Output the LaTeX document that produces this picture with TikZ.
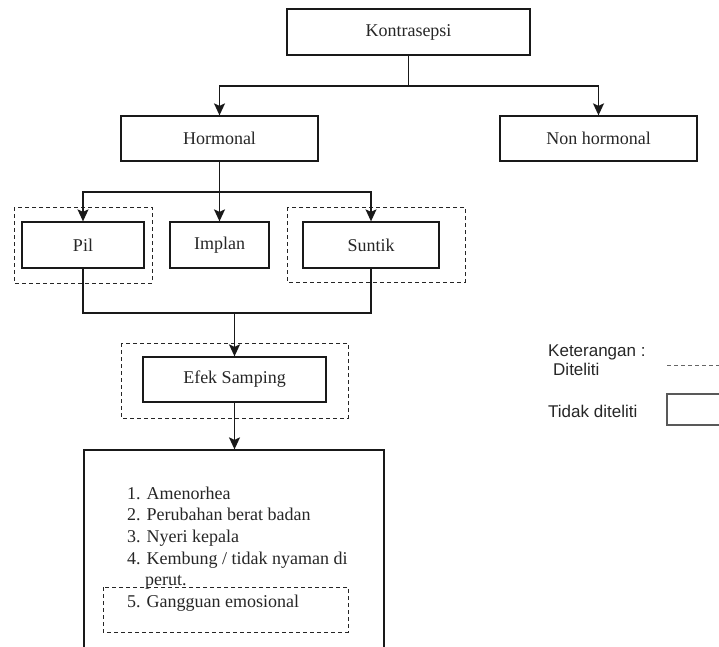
\documentclass[tikz,border=0pt]{standalone}
\usepackage{fontspec}
\setmainfont{Liberation Serif}
\newfontfamily\legendfont{Liberation Sans}
\usetikzlibrary{arrows.meta}
\begin{document}
\begin{tikzpicture}[x=1pt,y=-1pt,
  box/.style={draw=black!90, line width=1.3pt, rectangle, inner sep=0pt,
    text=black!85, font=\fontsize{18}{21.7}\selectfont},
  dashbox/.style={draw=black!85, line width=1pt, dash pattern=on 4pt off 3pt},
  link/.style={draw=black!90, line width=1.4pt},
  arrow/.style={link, -{Stealth[length=12pt,width=11pt,inset=2.5pt]}},
  item/.style={anchor=base west, inner sep=0pt, text=black!85,
    font=\fontsize{18}{21.7}\selectfont},
  legend/.style={anchor=base west, inner sep=0pt, text=black!85,
    font=\legendfont\fontsize{17}{20}\selectfont}]
\useasboundingbox (0,0) rectangle (719,646);
\clip (0,0) rectangle (719,646);

% top levels
\node[box, minimum width=243pt, minimum height=46pt] (kontra) at (408.5,32) {Kontrasepsi};
\node[box, minimum width=197pt, minimum height=45pt] (hormonal) at (219.5,138.5) {Hormonal};
\node[box, minimum width=197pt, minimum height=45pt] (nonhormonal) at (598.5,138.5) {Non hormonal};

% hormonal methods
\node[box, minimum width=122pt, minimum height=46pt] (pil) at (83,245) {Pil};
\node[box, minimum width=99pt, minimum height=46pt] (implan) at (219.5,245) {Implan};
\node[box, minimum width=136pt, minimum height=46pt] (suntik) at (371,245) {Suntik};
\draw[dashbox] (14,207) rectangle (152,283);
\draw[dashbox] (287,207) rectangle (465,282);

% side effects
\node[box, minimum width=183pt, minimum height=45pt] (efek) at (234.5,379.5) {Efek Samping};
\draw[dashbox] (121,343) rectangle (348,418);

% list of side effects
\node[box, minimum width=300pt, minimum height=250pt] (list) at (234,575) {};
\node[item] (l1) at (127,499) {1. Amenorhea};
\node[item] (l2) at (127,520.7) {2. Perubahan berat badan};
\node[item] (l3) at (127,542.4) {3. Nyeri kepala};
\node[item] (l4) at (127,564.1) {4. Kembung / tidak nyaman di};
\node[item] (l4b) at (145,585.8) {perut.};
\node[item] (l5) at (127,607.5) {5. Gangguan emosional};
\draw[dashbox] (103,587) rectangle (348,632);

% connectors
\coordinate (k1) at (408.5,86);
\draw[link] (kontra.south) -- (k1);
\draw[arrow] (k1) -| (hormonal.north);
\draw[arrow] (k1) -| (nonhormonal.north);

\coordinate (h1) at (219.5,192);
\draw[link] (hormonal.south) -- (h1);
\draw[arrow] (h1) -| (pil.north);
\draw[arrow] (h1) -- (implan.north);
\draw[arrow] (h1) -| (suntik.north);

\coordinate (j1) at (234.5,313);
\draw[link] (pil.south) |- (j1);
\draw[link] (suntik.south) |- (j1);
\draw[arrow] (j1) -- (efek.north);
\draw[arrow] (efek.south) -- (list.north -| efek.south);

% legend
\node[legend] (ket) at (548,356) {Keterangan :};
\node[legend] (dit) at (553,375) {Diteliti};
\node[legend] (tdit) at (548,417) {Tidak diteliti};
\coordinate (dl) at (667,365);
\coordinate (dr) at (719,365);
\draw[dashbox, draw=black!60] (dl) -- (dr);
\draw[draw=black!65, line width=1.6pt] (667,394) rectangle (740,425);
\end{tikzpicture}
\end{document}
